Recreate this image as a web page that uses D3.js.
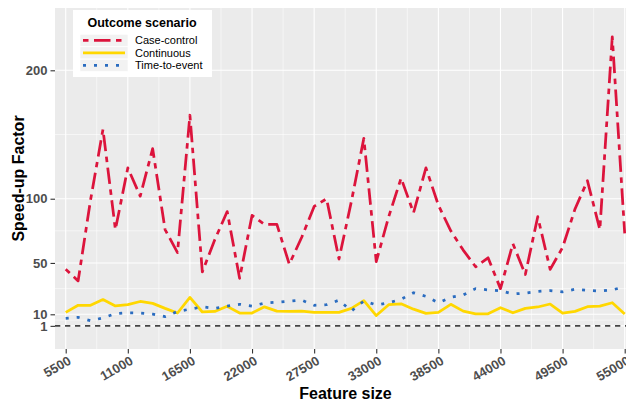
<!DOCTYPE html>
<html>
<head>
<meta charset="utf-8">
<script src="https://cdn.jsdelivr.net/npm/d3@7"></script>
<style>
  html, body { margin: 0; padding: 0; background: #ffffff; }
  svg { display: block; font-family: "Liberation Sans", Arial, Helvetica, sans-serif; }
</style>
</head>
<body>
<svg id="chart" width="626" height="402"></svg>
<script>
// ---------------- data ----------------
const featureSize = [5500, 6600, 7700, 8800, 9900, 11000, 12100, 13200, 14300, 15400,
  16500, 17600, 18700, 19800, 20900, 22000, 23100, 24200, 25300, 26400,
  27500, 28600, 29700, 30800, 31900, 33000, 34100, 35200, 36300, 37400,
  38500, 39600, 40700, 41800, 42900, 44000, 45100, 46200, 47300, 48400,
  49500, 50600, 51700, 52800, 53900, 55000];

const caseControl = [45, 36, 99, 154, 76, 124, 102, 139, 76, 58,
  165, 43, 68, 90, 38, 87, 80, 80, 49, 70,
  94, 100, 53, 98, 147, 51, 86, 116, 89, 124,
  95, 75, 60, 47, 54, 30, 65, 41, 86, 45,
  62, 92, 114, 76, 226, 73];

const continuous = [11.5, 17, 17, 21.5, 16.5, 17.5, 20, 18.5, 14.6, 11,
  23.2, 11.8, 12.2, 16.2, 11, 11, 15.8, 12.5, 12.3, 12.5,
  11.5, 11.5, 11.5, 14.6, 20.6, 9, 17.5, 18.2, 14, 10.7,
  11.5, 17.8, 12.5, 10.4, 10.4, 15.1, 11.2, 14.6, 15.7, 18,
  11, 12.3, 15.9, 16.4, 19, 10.2];

const timeToEvent = [6.9, 7.6, 5, 7.2, 10.5, 11.2, 11, 10.2, 8.2, 12.2,
  14, 15.8, 14.6, 16.4, 17.8, 16.4, 18.7, 19.4, 20.2, 21,
  17, 17.5, 21, 12.5, 20.3, 17.3, 19, 21.7, 26.8, 24,
  19, 23.2, 25, 30, 29, 28.3, 25.8, 26.5, 27.8, 28.5,
  27.5, 29.5, 28.7, 28.1, 29, 31.5];

const seriesNames = ["Case-control", "Continuous", "Time-to-event"];
const xTickValues = [5500, 11000, 16500, 22000, 27500, 33000, 38500, 44000, 49500, 55000];
const yTickValues = [1, 10, 50, 100, 200];
const refLine = 1;

// ---------------- layout ----------------
const svg = d3.select("#chart");
const panel = { left: 55, top: 8, right: 636, bottom: 349 };

const x = d3.scaleLinear().domain([5500, 55000]).range([65.7, 624.7]);
const y = d3.scaleLinear().domain([10, 200]).range([314.3, 70.3]);

const styles = {
  "Case-control": { color: "#DC143C", dash: "5.5,5.5,16.5,5.5" },
  "Continuous":   { color: "#FFD700", dash: null },
  "Time-to-event":{ color: "#2A6CC0", dash: "3,8" }
};
const seriesData = {
  "Case-control": caseControl,
  "Continuous": continuous,
  "Time-to-event": timeToEvent
};

// clip
svg.append("defs").append("clipPath").attr("id", "clip")
  .append("rect")
  .attr("x", panel.left).attr("y", panel.top)
  .attr("width", panel.right - panel.left).attr("height", panel.bottom - panel.top);

// panel background
svg.append("rect")
  .attr("x", panel.left).attr("y", panel.top)
  .attr("width", panel.right - panel.left).attr("height", panel.bottom - panel.top)
  .attr("fill", "#EBEBEB");

const grid = svg.append("g").attr("clip-path", "url(#clip)");

// minor vertical grid
const minorX = [];
for (let i = 0; i < xTickValues.length - 1; i++) minorX.push((xTickValues[i] + xTickValues[i + 1]) / 2);
grid.selectAll(".minx").data(minorX).enter().append("line")
  .attr("x1", d => x(d)).attr("x2", d => x(d))
  .attr("y1", panel.top).attr("y2", panel.bottom)
  .attr("stroke", "#ffffff").attr("stroke-width", 0.55);

// minor horizontal grid
const minorY = [5.5, 30, 75, 150];
grid.selectAll(".miny").data(minorY).enter().append("line")
  .attr("x1", panel.left).attr("x2", panel.right)
  .attr("y1", d => y(d)).attr("y2", d => y(d))
  .attr("stroke", "#ffffff").attr("stroke-width", 0.55);

// major grid
grid.selectAll(".majx").data(xTickValues).enter().append("line")
  .attr("x1", d => x(d)).attr("x2", d => x(d))
  .attr("y1", panel.top).attr("y2", panel.bottom)
  .attr("stroke", "#ffffff").attr("stroke-width", 1.1);
grid.selectAll(".majy").data(yTickValues).enter().append("line")
  .attr("x1", panel.left).attr("x2", panel.right)
  .attr("y1", d => y(d)).attr("y2", d => y(d))
  .attr("stroke", "#ffffff").attr("stroke-width", 1.1);

// reference dashed line
grid.append("line")
  .attr("x1", panel.left).attr("x2", panel.right)
  .attr("y1", y(refLine)).attr("y2", y(refLine))
  .attr("stroke", "#444444").attr("stroke-width", 1.6)
  .attr("stroke-dasharray", "5.3,4.7");

// series lines
const line = d3.line().x((d, i) => x(featureSize[i])).y(d => y(d));
const lines = svg.append("g").attr("clip-path", "url(#clip)");
seriesNames.forEach(name => {
  const s = styles[name];
  lines.append("path")
    .datum(seriesData[name])
    .attr("d", line)
    .attr("fill", "none")
    .attr("stroke", s.color)
    .attr("stroke-width", 2.75)
    .attr("stroke-linejoin", "round")
    .attr("stroke-dasharray", s.dash);
});

// ---------------- axes ----------------
const tickColor = "#333333";
const labelColor = "#4D4D4D";

const yAxis = svg.append("g")
  .attr("transform", `translate(${panel.left},0)`)
  .call(d3.axisLeft(y).tickValues(yTickValues).tickSize(4.5).tickPadding(3).tickFormat(d3.format("d")));
yAxis.select(".domain").remove();
yAxis.selectAll(".tick line").attr("stroke", tickColor).attr("stroke-width", 1.1);
yAxis.selectAll(".tick text")
  .attr("fill", labelColor)
  .style("font-size", "13px").style("font-weight", "bold")
  .style("font-family", "'Liberation Sans', Arial, sans-serif");

const xAxis = svg.append("g")
  .attr("transform", `translate(0,${panel.bottom})`)
  .call(d3.axisBottom(x).tickValues(xTickValues).tickSize(4.5).tickFormat(d3.format("d")));
xAxis.select(".domain").remove();
xAxis.selectAll(".tick line").attr("stroke", tickColor).attr("stroke-width", 1.1);
xAxis.selectAll(".tick text")
  .attr("fill", labelColor)
  .attr("y", 0).attr("dy", 0)
  .attr("text-anchor", "end")
  .attr("dominant-baseline", "hanging")
  .attr("transform", "translate(1,6) rotate(-30)")
  .style("font-size", "13px").style("font-weight", "bold")
  .style("font-family", "'Liberation Sans', Arial, sans-serif");

// axis titles
svg.append("text")
  .attr("x", (panel.left + panel.right) / 2).attr("y", 399)
  .attr("text-anchor", "middle")
  .style("font-size", "16px").style("font-weight", "bold").attr("fill", "#000")
  .text("Feature size");

svg.append("text")
  .attr("transform", `translate(24,${(panel.top + panel.bottom) / 2}) rotate(-90)`)
  .attr("text-anchor", "middle")
  .style("font-size", "16px").style("font-weight", "bold").attr("fill", "#000")
  .text("Speed-up Factor");

// ---------------- legend ----------------
const legend = svg.append("g");
legend.append("rect")
  .attr("x", 73).attr("y", 10).attr("width", 139).attr("height", 67)
  .attr("fill", "#ffffff");
legend.append("text")
  .attr("x", 142).attr("y", 27)
  .attr("text-anchor", "middle")
  .style("font-size", "12.5px").style("font-weight", "bold").attr("fill", "#000")
  .text("Outcome scenario");

seriesNames.forEach((name, i) => {
  const cy = 40.3 + i * 12.5;
  const s = styles[name];
  legend.append("rect")
    .attr("x", 80).attr("y", cy - 6).attr("width", 48).attr("height", 12)
    .attr("fill", "#F2F2F2").attr("stroke", "#ffffff").attr("stroke-width", 0.6);
  legend.append("line")
    .attr("x1", 83).attr("x2", 125).attr("y1", cy).attr("y2", cy)
    .attr("stroke", s.color).attr("stroke-width", 2.75)
    .attr("stroke-dasharray", s.dash);
  legend.append("text")
    .attr("x", 135).attr("y", cy + 4)
    .style("font-size", "11px").attr("fill", "#000")
    .text(name);
});
</script>
</body>
</html>
